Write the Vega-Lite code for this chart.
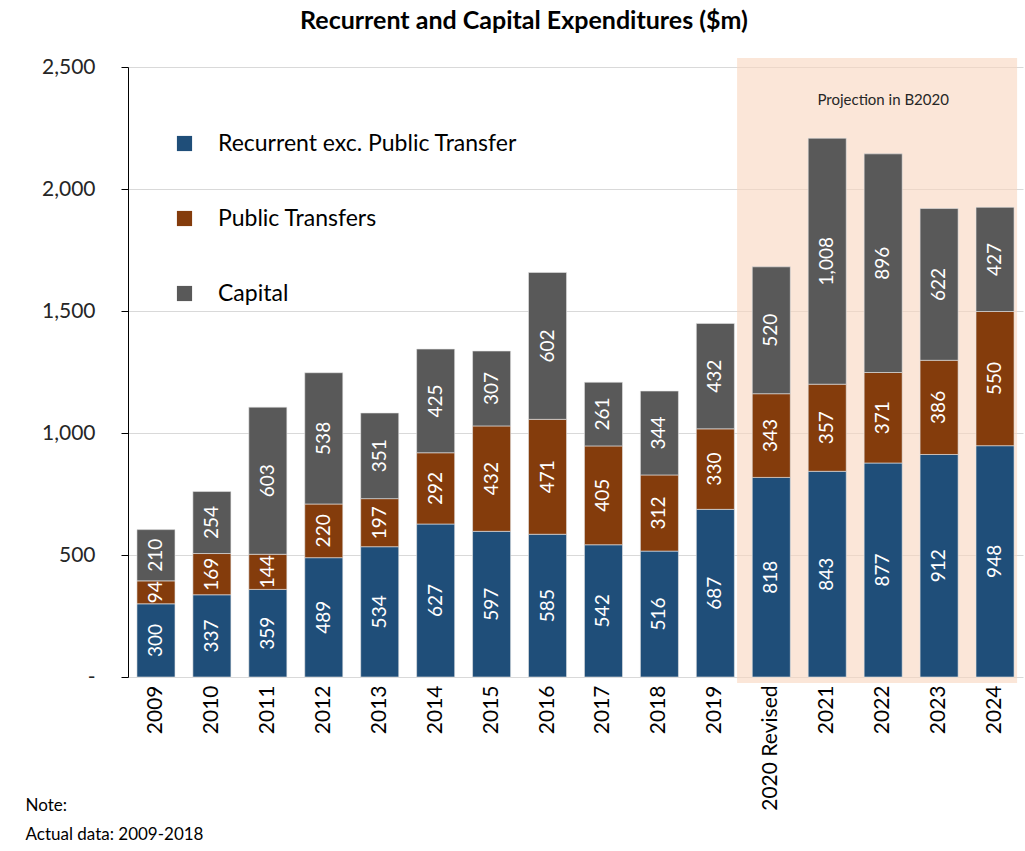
{
  "$schema": "https://vega.github.io/schema/vega-lite/v6.json",
  "autosize": {"type": "none"},
  "width": 895,
  "height": 610,
  "padding": {"left": 128, "top": 67, "right": 2, "bottom": 174},
  "background": "white",
  "config": {
    "view": {"stroke": null},
    "font": "Lato"
  },
  "title": {
    "text": "Recurrent and Capital Expenditures ($m)",
    "font": "Lato",
    "fontSize": 25,
    "fontWeight": "bold",
    "color": "#000000",
    "anchor": "middle",
    "frame": "bounds",
    "offset": 22
  },
  "datasets": {
    "exp": [
      {"year": "2009", "series": "Recurrent exc. Public Transfer", "ord": 1, "value": 300},
      {"year": "2009", "series": "Public Transfers", "ord": 2, "value": 94},
      {"year": "2009", "series": "Capital", "ord": 3, "value": 210},
      {"year": "2010", "series": "Recurrent exc. Public Transfer", "ord": 1, "value": 337},
      {"year": "2010", "series": "Public Transfers", "ord": 2, "value": 169},
      {"year": "2010", "series": "Capital", "ord": 3, "value": 254},
      {"year": "2011", "series": "Recurrent exc. Public Transfer", "ord": 1, "value": 359},
      {"year": "2011", "series": "Public Transfers", "ord": 2, "value": 144},
      {"year": "2011", "series": "Capital", "ord": 3, "value": 603},
      {"year": "2012", "series": "Recurrent exc. Public Transfer", "ord": 1, "value": 489},
      {"year": "2012", "series": "Public Transfers", "ord": 2, "value": 220},
      {"year": "2012", "series": "Capital", "ord": 3, "value": 538},
      {"year": "2013", "series": "Recurrent exc. Public Transfer", "ord": 1, "value": 534},
      {"year": "2013", "series": "Public Transfers", "ord": 2, "value": 197},
      {"year": "2013", "series": "Capital", "ord": 3, "value": 351},
      {"year": "2014", "series": "Recurrent exc. Public Transfer", "ord": 1, "value": 627},
      {"year": "2014", "series": "Public Transfers", "ord": 2, "value": 292},
      {"year": "2014", "series": "Capital", "ord": 3, "value": 425},
      {"year": "2015", "series": "Recurrent exc. Public Transfer", "ord": 1, "value": 597},
      {"year": "2015", "series": "Public Transfers", "ord": 2, "value": 432},
      {"year": "2015", "series": "Capital", "ord": 3, "value": 307},
      {"year": "2016", "series": "Recurrent exc. Public Transfer", "ord": 1, "value": 585},
      {"year": "2016", "series": "Public Transfers", "ord": 2, "value": 471},
      {"year": "2016", "series": "Capital", "ord": 3, "value": 602},
      {"year": "2017", "series": "Recurrent exc. Public Transfer", "ord": 1, "value": 542},
      {"year": "2017", "series": "Public Transfers", "ord": 2, "value": 405},
      {"year": "2017", "series": "Capital", "ord": 3, "value": 261},
      {"year": "2018", "series": "Recurrent exc. Public Transfer", "ord": 1, "value": 516},
      {"year": "2018", "series": "Public Transfers", "ord": 2, "value": 312},
      {"year": "2018", "series": "Capital", "ord": 3, "value": 344},
      {"year": "2019", "series": "Recurrent exc. Public Transfer", "ord": 1, "value": 687},
      {"year": "2019", "series": "Public Transfers", "ord": 2, "value": 330},
      {"year": "2019", "series": "Capital", "ord": 3, "value": 432},
      {"year": "2020 Revised", "series": "Recurrent exc. Public Transfer", "ord": 1, "value": 818},
      {"year": "2020 Revised", "series": "Public Transfers", "ord": 2, "value": 343},
      {"year": "2020 Revised", "series": "Capital", "ord": 3, "value": 520},
      {"year": "2021", "series": "Recurrent exc. Public Transfer", "ord": 1, "value": 843},
      {"year": "2021", "series": "Public Transfers", "ord": 2, "value": 357},
      {"year": "2021", "series": "Capital", "ord": 3, "value": 1008},
      {"year": "2022", "series": "Recurrent exc. Public Transfer", "ord": 1, "value": 877},
      {"year": "2022", "series": "Public Transfers", "ord": 2, "value": 371},
      {"year": "2022", "series": "Capital", "ord": 3, "value": 896},
      {"year": "2023", "series": "Recurrent exc. Public Transfer", "ord": 1, "value": 912},
      {"year": "2023", "series": "Public Transfers", "ord": 2, "value": 386},
      {"year": "2023", "series": "Capital", "ord": 3, "value": 622},
      {"year": "2024", "series": "Recurrent exc. Public Transfer", "ord": 1, "value": 948},
      {"year": "2024", "series": "Public Transfers", "ord": 2, "value": 550},
      {"year": "2024", "series": "Capital", "ord": 3, "value": 427}
    ],
    "shade": [
      {"start": "2020 Revised", "end": "2024", "lo": -25, "hi": 2537}
    ],
    "note": [
      {"year": "2022", "y": 2365, "label": "Projection in B2020"}
    ]
  },
  "encoding": {
    "x": {
      "field": "year",
      "type": "nominal",
      "sort": null,
      "scale": {
        "domain": ["2009", "2010", "2011", "2012", "2013", "2014", "2015", "2016", "2017", "2018", "2019", "2020 Revised", "2021", "2022", "2023", "2024"],
        "paddingInner": 0.32,
        "paddingOuter": 0.16
      },
      "axis": {
        "title": ["Note:", "Actual data: 2009-2018"],
        "titleX": -103,
        "titleY": 133,
        "titleAlign": "left",
        "titleAnchor": "start",
        "titleBaseline": "alphabetic",
        "titleFont": "Lato",
        "titleFontSize": 17,
        "titleFontWeight": "normal",
        "titleColor": "#000000",
        "titleLineHeight": 29,
        "labelAngle": -90,
        "labelAlign": "right",
        "labelBaseline": "middle",
        "labelFontSize": 21,
        "labelColor": "#000000",
        "labelPadding": 8,
        "ticks": false,
        "domain": false,
        "grid": false
      }
    }
  },
  "layer": [
    {
      "data": {"name": "shade"},
      "mark": {"type": "rect", "fill": "#F8D5BE", "opacity": 0.6},
      "encoding": {
        "x": {"field": "start", "type": "nominal", "bandPosition": -0.4},
        "x2": {"field": "end", "bandPosition": 1.08},
        "y": {"field": "lo", "type": "quantitative", "scale": {"domain": [0, 2500], "nice": false}},
        "y2": {"field": "hi"}
      }
    },
    {
      "data": {"name": "exp"},
      "mark": {"type": "bar", "stroke": "#E6E6E6", "strokeWidth": 0.6},
      "encoding": {
        "y": {
          "field": "value",
          "type": "quantitative",
          "stack": "zero",
          "scale": {"domain": [0, 2500], "nice": false},
          "axis": {
            "title": null,
            "values": [0, 500, 1000, 1500, 2000, 2500],
            "labelExpr": "datum.value == 0 ? '-' : format(datum.value, ',')",
            "labelFont": "Lato",
            "labelFontSize": 21,
            "labelColor": "#262626",
            "labelPadding": 26,
            "tickSize": 7,
            "tickColor": "#000000",
            "domainColor": "#000000",
            "grid": true,
            "gridColor": "#D9D9D9",
            "gridWidth": 1.2
          }
        },
        "color": {
          "field": "series",
          "type": "nominal",
          "scale": {
            "domain": ["Recurrent exc. Public Transfer", "Public Transfers", "Capital"],
            "range": ["#1F4E79", "#843C0C", "#595959"]
          },
          "legend": {
            "title": null,
            "orient": "none",
            "legendX": 45,
            "legendY": 65,
            "direction": "vertical",
            "symbolType": "square",
            "symbolSize": 230,
            "symbolStrokeWidth": 0,
            "labelFont": "Lato",
            "labelFontSize": 23,
            "labelColor": "#000000",
            "labelOffset": 22,
            "rowPadding": 51,
            "labelLimit": 500
          }
        },
        "order": {"field": "ord", "type": "quantitative"}
      }
    },
    {
      "data": {"name": "exp"},
      "mark": {"type": "text", "angle": 270, "color": "white", "font": "Lato", "fontSize": 19, "baseline": "middle", "align": "center"},
      "encoding": {
        "y": {"field": "value", "type": "quantitative", "stack": "zero", "bandPosition": 0.5},
        "detail": {"field": "series"},
        "order": {"field": "ord", "type": "quantitative"},
        "text": {"field": "value", "type": "quantitative", "format": ","}
      }
    },
    {
      "data": {"name": "note"},
      "mark": {"type": "text", "font": "Lato", "fontSize": 15, "color": "#262626", "align": "center", "baseline": "middle"},
      "encoding": {
        "y": {"field": "y", "type": "quantitative"},
        "text": {"field": "label"}
      }
    }
  ]
}
